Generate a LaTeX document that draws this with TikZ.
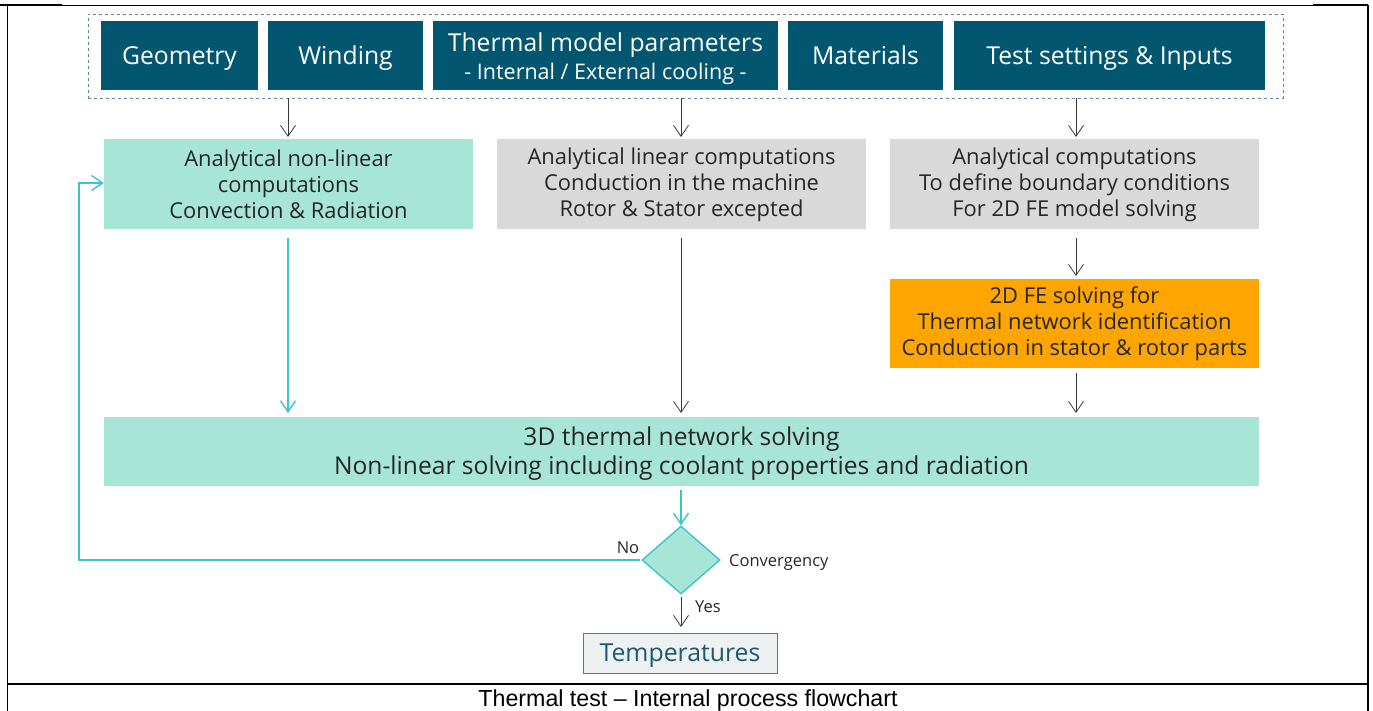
\documentclass[tikz,border=0pt]{standalone}
\usepackage{fontspec}
\setmainfont{Open Sans}
\newfontfamily\capfont{Liberation Sans}
\usetikzlibrary{arrows.meta,shapes.geometric}
\definecolor{darkteal}{HTML}{02566F}
\definecolor{lightteal}{HTML}{A7E5D7}
\definecolor{boxgrey}{HTML}{D9D9D9}
\definecolor{orangebox}{HTML}{FFA500}
\definecolor{tealline}{HTML}{3CC5C9}
\definecolor{greyline}{HTML}{3A3A3A}
\definecolor{dashline}{HTML}{5F8795}
\definecolor{tempfill}{HTML}{EDF1F2}
\definecolor{tempborder}{HTML}{4E7F8F}
\definecolor{temptext}{HTML}{1C5873}
\tikzset{
  topbox/.style={fill=darkteal, inner sep=0pt, minimum height=69pt},
  toptext/.style={text=white, inner sep=0pt, font=\fontsize{24.7}{30}\selectfont, align=center, yshift=-3pt},
  oneline/.style={text height=18.5pt, text depth=6pt},
  procbox/.style={inner sep=0pt, text=black!85, font=\fontsize{21.9}{26}\selectfont, align=center},
  greyarrow/.style={draw=greyline, line width=0.8pt, -{Straight Barb[length=11pt,width=15pt,line width=0.8pt]}},
  tealarrow/.style={draw=tealline, line width=1.4pt, -{Straight Barb[length=11pt,width=15pt,line width=1.4pt]}},
  smalllabel/.style={font=\fontsize{16.5}{19}\selectfont, text=black!85, inner sep=0pt}
}
\begin{document}
\begin{tikzpicture}[x=1pt,y=-1pt]
\useasboundingbox (0,0) rectangle (1373,711);
% frame
\draw[line width=0.6pt] (7,5) -- (1368,5);
\draw[line width=2pt] (0,5) -- (62,5);
\draw[line width=2pt] (1313,5) -- (1368,5);
\draw[line width=0.8pt] (7,5) -- (7,711);
\draw[line width=2pt] (1368,5) -- (1368,711);
\draw[line width=2pt] (7,684) -- (1368,684);
\node[font=\capfont\fontsize{23.2}{26}\selectfont, inner sep=0pt] (cap) at (688,700) {Thermal test – Internal process flowchart};
% dashed container
\node[draw=dashline, dashed, line width=0.8pt, minimum width=1195pt, minimum height=84pt, inner sep=0pt] (inputs) at (685.5,56) {};
% top boxes
\node[topbox, minimum width=157pt, label={[toptext,oneline]center:Geometry}] (geo) at (179.5,55.5) {};
\node[topbox, minimum width=155pt, label={[toptext,oneline]center:Winding}] (wind) at (345.5,55.5) {};
\node[topbox, minimum width=345pt, label={[toptext]center:{Thermal model parameters\\[-2pt]{\fontsize{21.5}{25}\selectfont - Internal / External cooling -}}}] (tmp) at (605.5,55.5) {};
\node[topbox, minimum width=155pt, label={[toptext,oneline]center:Materials}] (mat) at (865.5,55.5) {};
\node[topbox, minimum width=311pt, label={[toptext,oneline]center:{Test settings \& Inputs}}] (test) at (1109.5,55.5) {};
% process boxes
\node[procbox, fill=lightteal, minimum width=369pt, minimum height=90pt] (nonlin) at (288.5,184.5) {Analytical non-linear\\computations\\Convection \& Radiation};
\node[procbox, fill=boxgrey, minimum width=369pt, minimum height=90pt] (lin) at (681.5,184.5) {Analytical linear computations\\Conduction in the machine\\Rotor \& Stator excepted};
\node[procbox, fill=boxgrey, minimum width=369pt, minimum height=90pt] (bc) at (1074.5,184.5) {Analytical computations\\To define boundary conditions\\For 2D FE model solving};
\node[procbox, fill=orangebox, minimum width=369pt, minimum height=89pt] (fe) at (1074.5,323.5) {2D FE solving for\\Thermal network identification\\Conduction in stator \& rotor parts};
\node[fill=lightteal, minimum width=1155pt, minimum height=69pt, inner sep=0pt,
  label={[text=black!85, font=\fontsize{24.6}{29.5}\selectfont, align=center, inner sep=0pt, yshift=-2pt]center:{3D thermal network solving\\Non-linear solving including coolant properties and radiation}}] (net) at (681.5,451.5) {};
% decision
\node[diamond, draw=tealline, fill=lightteal, line width=1.4pt, minimum width=78pt, minimum height=68pt, inner sep=0pt] (conv) at (681,560) {};
\node[smalllabel, anchor=west] (convlab) at (729,563) {Convergency};
\node[smalllabel] (nolab) at (628,548) {No};
\node[smalllabel, anchor=west] (yeslab) at (695,607) {Yes};
\node[draw=tempborder, fill=tempfill, line width=0.8pt, minimum width=194pt, minimum height=40pt, inner sep=0pt,
  label={[text=temptext, font=\fontsize{24.8}{28}\selectfont, inner sep=0pt, yshift=-3pt]center:Temperatures}] (temp) at (680,653) {};
% arrows
\draw[greyarrow] (288,98) -- (288,137);
\draw[greyarrow] (681,98) -- (681,137);
\draw[greyarrow] (1076,98) -- (1076,137);
\draw[greyarrow] (1076,238) -- (1076,276);
\draw[tealarrow] (288,238) -- (288,413);
\draw[greyarrow] (681,238) -- (681,413);
\draw[greyarrow] (1076,373) -- (1076,413);
\draw[tealarrow] (681,490) -- (conv.north);
\draw[greyarrow] (681,597) -- (681,627);
\coordinate (loopa) at (79,560);
\coordinate (loopb) at (79,183);
\draw[tealarrow] (640,560) -- (loopa) -- (loopb) -- (nonlin.west |- loopb);
\end{tikzpicture}
\end{document}
